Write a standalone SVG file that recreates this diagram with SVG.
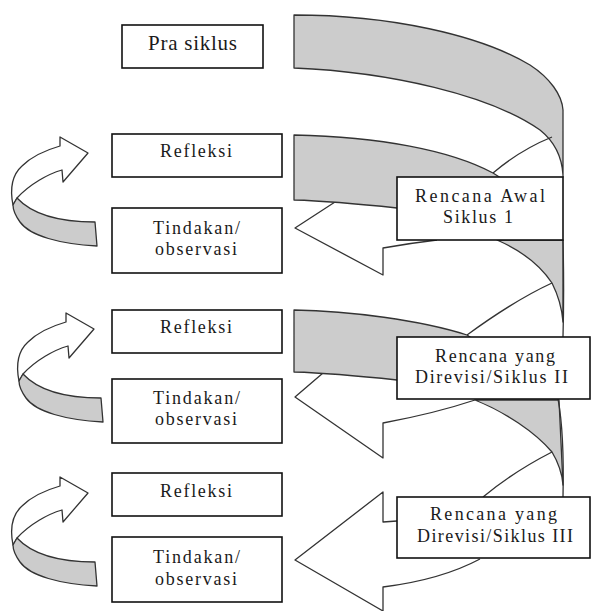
<svg xmlns="http://www.w3.org/2000/svg" width="591" height="611" viewBox="0 0 591 611">
<style>
.ln{fill:none;stroke:#333;stroke-width:1.3;stroke-linejoin:round}
.gr{fill:#cccccc;stroke:#333;stroke-width:1.3;stroke-linejoin:round}
.wh{fill:#fff;stroke:#333;stroke-width:1.3;stroke-linejoin:round}
.box{fill:#fff;stroke:#111;stroke-width:1.6}
.t{font-family:"Liberation Serif","Times New Roman",serif;font-size:18px;fill:#1a1a1a}
</style>
<defs>
<g id="curl">
<path class="wh" d="M13,205 C10,190 12,175 22,166 C32,156 46,150 60,146 L60,137 L88,153 L63,182 L62,170 C48,174 30,184 17,198 Z"/>
<path class="gr" d="M17,198 C30,212 55,222 95,222 L97,246 C60,244 30,236 20,222 C15,215 13,210 13,205 Z"/>
</g>
</defs>
<g id="connectors">
<g id="spiral-arrows">
<path class="ln" d="M335,202 L295,228 L383,275 L383,248 C400,245 420,242 437,240"/>
<path class="ln" d="M323,373 L295,397 L383,458 L383,423 C410,418 445,410 475,400"/>
<path class="ln" d="M397,521 L383,522 L383,492 L295,560 L383,611 L383,587 C415,583 450,575 480,559"/>
</g>
<g id="spiral-bands">
<path class="gr" d="M294,15 C390,15 480,35 530,65 C550,78 562,95 563,110 L563,177 L563,175 C562,158 555,142 540,130 C490,95 390,72 294,68 Z"/>
<path class="ln" d="M552,137 Q520,150 493,173"/>
<path class="gr" d="M294,135 C380,137 450,150 493,173 L520,190 L500,215 L397,208 C360,204 330,201 294,200 Z"/>
<path class="gr" d="M497,240 C520,250 540,265 552,283 C558,295 562,308 563,322 L563,240 Z"/>
<path class="ln" d="M563,240 C564,280 564,300 563,337"/>
<path class="ln" d="M552,283 Q515,300 467,335"/>
<path class="gr" d="M294,310 C350,311 420,320 467,335 L490,350 L470,390 L397,380 C360,376 330,373 294,372 Z"/>
<path class="gr" d="M475,400 C505,412 535,432 552,452 C558,462 562,472 563,485 L559,400 Z"/>
<path class="ln" d="M558,399 C562,420 564,450 563,497"/>
<path class="ln" d="M552,452 Q513,472 483,497"/>
</g>
<g id="loops">
<use href="#curl"/>
<use href="#curl" transform="translate(6,176)"/>
<use href="#curl" transform="translate(0,340)"/>
</g>
</g>
<g id="pra-siklus"><rect class="box" x="122" y="25" width="141" height="43"/><text class="t" x="148" y="50" textLength="89" lengthAdjust="spacing" style="font-size:21px">Pra siklus</text></g>
<g id="refleksi-1"><rect class="box" x="112" y="134" width="170" height="43"/><text class="t" x="160" y="157" textLength="72" lengthAdjust="spacing">Refleksi</text></g>
<g id="tindakan-1"><rect class="box" x="112" y="208" width="170" height="65"/><text class="t" x="153" y="234" textLength="87" lengthAdjust="spacing">Tindakan/</text><text class="t" x="155" y="255" textLength="82" lengthAdjust="spacing">observasi</text></g>
<g id="refleksi-2"><rect class="box" x="112" y="310" width="170" height="43"/><text class="t" x="160" y="333" textLength="72" lengthAdjust="spacing">Refleksi</text></g>
<g id="tindakan-2"><rect class="box" x="112" y="379" width="170" height="64"/><text class="t" x="153" y="404" textLength="87" lengthAdjust="spacing">Tindakan/</text><text class="t" x="155" y="425" textLength="82" lengthAdjust="spacing">observasi</text></g>
<g id="refleksi-3"><rect class="box" x="112" y="473" width="170" height="43"/><text class="t" x="160" y="497" textLength="72" lengthAdjust="spacing">Refleksi</text></g>
<g id="tindakan-3"><rect class="box" x="112" y="537" width="170" height="65"/><text class="t" x="153" y="563" textLength="87" lengthAdjust="spacing">Tindakan/</text><text class="t" x="155" y="585" textLength="82" lengthAdjust="spacing">observasi</text></g>
<g id="rencana-awal"><rect class="box" x="397" y="177" width="166" height="63"/><text class="t" x="415" y="202" textLength="130" lengthAdjust="spacing">Rencana Awal</text><text class="t" x="443" y="223" textLength="70" lengthAdjust="spacing">Siklus 1</text></g>
<g id="rencana-2"><rect class="box" x="397" y="337" width="193" height="62"/><text class="t" x="435" y="362" textLength="120" lengthAdjust="spacing">Rencana yang</text><text class="t" x="415" y="383" textLength="153" lengthAdjust="spacing">Direvisi/Siklus II</text></g>
<g id="rencana-3"><rect class="box" x="397" y="497" width="193" height="61"/><text class="t" x="430" y="520" textLength="127" lengthAdjust="spacing">Rencana yang</text><text class="t" x="417" y="542" textLength="156" lengthAdjust="spacing">Direvisi/Siklus III</text></g>
</svg>
